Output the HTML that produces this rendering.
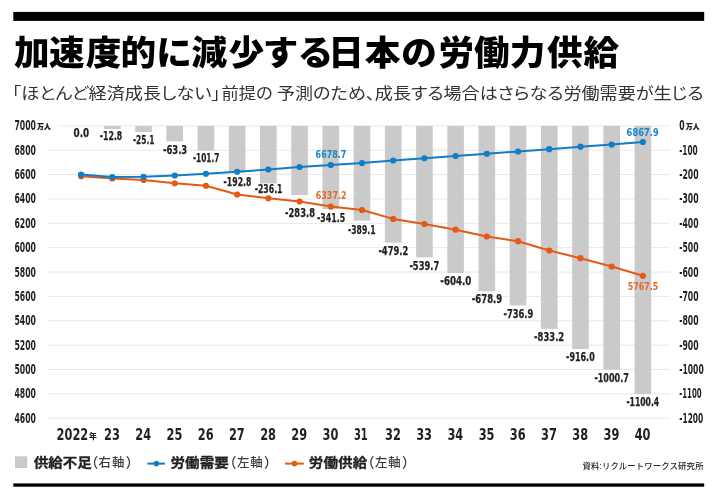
<!DOCTYPE html>
<html lang="ja"><head><meta charset="utf-8"><title>加速度的に減少する日本の労働力供給</title>
<style>html,body{margin:0;padding:0;background:#fff;}svg{display:block;}</style></head>
<body><svg width="720" height="499" viewBox="0 0 720 499">
<rect width="720" height="499" fill="#fff"/>
<rect x="13.3" y="11.9" width="690.9" height="9" fill="#000"/>
<rect x="13.3" y="483.4" width="690.9" height="3.3" fill="#000"/>
<g transform="translate(0,52.4) scale(1,0.945) translate(0,-52.4)"><text x="14 49 85.7 120.5 156.2 191.5 228.5 262.8 297.8 328.3 364.8 401.3 438.6 474 509.7 547.1 583.4" y="65.22" font-family="'Liberation Sans', 'Noto Sans CJK JP', sans-serif" font-weight="900" font-size="35.6" fill="#000">加速度的に減少する日本の労働力供給</text></g>
<text x="12.0" y="99.2" font-family="'Liberation Sans', 'Noto Sans CJK JP', sans-serif" font-weight="400" font-size="16.0" fill="#333" style="font-feature-settings:'palt'" textLength="208.5" lengthAdjust="spacingAndGlyphs">「ほとんど経済成長しない」</text>
<text x="221.4" y="99.2" font-family="'Liberation Sans', 'Noto Sans CJK JP', sans-serif" font-weight="400" font-size="16.0" fill="#333" style="font-feature-settings:'palt'" textLength="51.2" lengthAdjust="spacingAndGlyphs">前提の</text>
<text x="277.0" y="99.2" font-family="'Liberation Sans', 'Noto Sans CJK JP', sans-serif" font-weight="400" font-size="16.0" fill="#333" style="font-feature-settings:'palt'" textLength="426.5" lengthAdjust="spacingAndGlyphs">予測のため、成長する場合はさらなる労働需要が生じる</text>
<line x1="58.8" x2="670.2" y1="125.90" y2="125.90" stroke="#e8e8e8" stroke-width="1"/>
<line x1="48" x2="670.2" y1="150.26" y2="150.26" stroke="#e8e8e8" stroke-width="1"/>
<line x1="48" x2="670.2" y1="174.62" y2="174.62" stroke="#e8e8e8" stroke-width="1"/>
<line x1="48" x2="670.2" y1="198.98" y2="198.98" stroke="#e8e8e8" stroke-width="1"/>
<line x1="48" x2="670.2" y1="223.34" y2="223.34" stroke="#e8e8e8" stroke-width="1"/>
<line x1="48" x2="670.2" y1="247.70" y2="247.70" stroke="#e8e8e8" stroke-width="1"/>
<line x1="48" x2="670.2" y1="272.06" y2="272.06" stroke="#e8e8e8" stroke-width="1"/>
<line x1="48" x2="670.2" y1="296.42" y2="296.42" stroke="#e8e8e8" stroke-width="1"/>
<line x1="48" x2="670.2" y1="320.78" y2="320.78" stroke="#e8e8e8" stroke-width="1"/>
<line x1="48" x2="670.2" y1="345.14" y2="345.14" stroke="#e8e8e8" stroke-width="1"/>
<line x1="48" x2="670.2" y1="369.50" y2="369.50" stroke="#e8e8e8" stroke-width="1"/>
<line x1="48" x2="670.2" y1="393.86" y2="393.86" stroke="#e8e8e8" stroke-width="1"/>
<line x1="48" x2="670.2" y1="418.22" y2="418.22" stroke="#e8e8e8" stroke-width="1"/>
<rect x="104.01" y="125.90" width="16.6" height="3.12" fill="#cacaca"/>
<rect x="135.22" y="125.90" width="16.6" height="6.11" fill="#cacaca"/>
<rect x="166.43" y="125.90" width="16.6" height="15.42" fill="#cacaca"/>
<rect x="197.64" y="125.90" width="16.6" height="24.77" fill="#cacaca"/>
<rect x="228.85" y="125.90" width="16.6" height="46.97" fill="#cacaca"/>
<rect x="260.06" y="125.90" width="16.6" height="57.51" fill="#cacaca"/>
<rect x="291.27" y="125.90" width="16.6" height="69.13" fill="#cacaca"/>
<rect x="322.48" y="125.90" width="16.6" height="83.19" fill="#cacaca"/>
<rect x="353.69" y="125.90" width="16.6" height="94.78" fill="#cacaca"/>
<rect x="384.90" y="125.90" width="16.6" height="116.73" fill="#cacaca"/>
<rect x="416.11" y="125.90" width="16.6" height="131.47" fill="#cacaca"/>
<rect x="447.32" y="125.90" width="16.6" height="147.13" fill="#cacaca"/>
<rect x="478.53" y="125.90" width="16.6" height="165.38" fill="#cacaca"/>
<rect x="509.74" y="125.90" width="16.6" height="179.51" fill="#cacaca"/>
<rect x="540.95" y="125.90" width="16.6" height="202.97" fill="#cacaca"/>
<rect x="572.16" y="125.90" width="16.6" height="223.14" fill="#cacaca"/>
<rect x="603.37" y="125.90" width="16.6" height="243.77" fill="#cacaca"/>
<rect x="634.58" y="125.90" width="16.6" height="268.06" fill="#cacaca"/>
<text transform="translate(14.5,130.36) scale(0.6,1)" font-family="'DejaVu Sans', sans-serif" font-stretch="condensed" font-weight="700" font-size="14.3" fill="#231f20" textLength="35.81" lengthAdjust="spacingAndGlyphs">7000</text>
<text transform="translate(679.3,130.36) scale(0.6,1)" font-family="'DejaVu Sans', sans-serif" font-stretch="condensed" font-weight="700" font-size="14.3" fill="#231f20" textLength="8.95" lengthAdjust="spacingAndGlyphs">0</text>
<text transform="translate(14.5,154.72) scale(0.6,1)" font-family="'DejaVu Sans', sans-serif" font-stretch="condensed" font-weight="700" font-size="14.3" fill="#231f20" textLength="35.81" lengthAdjust="spacingAndGlyphs">6800</text>
<text transform="translate(679.3,154.72) scale(0.6,1)" font-family="'DejaVu Sans', sans-serif" font-stretch="condensed" font-weight="700" font-size="14.3" fill="#231f20" textLength="30.7" lengthAdjust="spacingAndGlyphs">-100</text>
<text transform="translate(14.5,179.08) scale(0.6,1)" font-family="'DejaVu Sans', sans-serif" font-stretch="condensed" font-weight="700" font-size="14.3" fill="#231f20" textLength="35.81" lengthAdjust="spacingAndGlyphs">6600</text>
<text transform="translate(679.3,179.08) scale(0.6,1)" font-family="'DejaVu Sans', sans-serif" font-stretch="condensed" font-weight="700" font-size="14.3" fill="#231f20" textLength="32.2" lengthAdjust="spacingAndGlyphs">-200</text>
<text transform="translate(14.5,203.44) scale(0.6,1)" font-family="'DejaVu Sans', sans-serif" font-stretch="condensed" font-weight="700" font-size="14.3" fill="#231f20" textLength="35.81" lengthAdjust="spacingAndGlyphs">6400</text>
<text transform="translate(679.3,203.44) scale(0.6,1)" font-family="'DejaVu Sans', sans-serif" font-stretch="condensed" font-weight="700" font-size="14.3" fill="#231f20" textLength="32.2" lengthAdjust="spacingAndGlyphs">-300</text>
<text transform="translate(14.5,227.80) scale(0.6,1)" font-family="'DejaVu Sans', sans-serif" font-stretch="condensed" font-weight="700" font-size="14.3" fill="#231f20" textLength="35.81" lengthAdjust="spacingAndGlyphs">6200</text>
<text transform="translate(679.3,227.80) scale(0.6,1)" font-family="'DejaVu Sans', sans-serif" font-stretch="condensed" font-weight="700" font-size="14.3" fill="#231f20" textLength="32.2" lengthAdjust="spacingAndGlyphs">-400</text>
<text transform="translate(14.5,252.16) scale(0.6,1)" font-family="'DejaVu Sans', sans-serif" font-stretch="condensed" font-weight="700" font-size="14.3" fill="#231f20" textLength="35.81" lengthAdjust="spacingAndGlyphs">6000</text>
<text transform="translate(679.3,252.16) scale(0.6,1)" font-family="'DejaVu Sans', sans-serif" font-stretch="condensed" font-weight="700" font-size="14.3" fill="#231f20" textLength="32.2" lengthAdjust="spacingAndGlyphs">-500</text>
<text transform="translate(14.5,276.52) scale(0.6,1)" font-family="'DejaVu Sans', sans-serif" font-stretch="condensed" font-weight="700" font-size="14.3" fill="#231f20" textLength="35.81" lengthAdjust="spacingAndGlyphs">5800</text>
<text transform="translate(679.3,276.52) scale(0.6,1)" font-family="'DejaVu Sans', sans-serif" font-stretch="condensed" font-weight="700" font-size="14.3" fill="#231f20" textLength="32.2" lengthAdjust="spacingAndGlyphs">-600</text>
<text transform="translate(14.5,300.88) scale(0.6,1)" font-family="'DejaVu Sans', sans-serif" font-stretch="condensed" font-weight="700" font-size="14.3" fill="#231f20" textLength="35.81" lengthAdjust="spacingAndGlyphs">5600</text>
<text transform="translate(679.3,300.88) scale(0.6,1)" font-family="'DejaVu Sans', sans-serif" font-stretch="condensed" font-weight="700" font-size="14.3" fill="#231f20" textLength="32.2" lengthAdjust="spacingAndGlyphs">-700</text>
<text transform="translate(14.5,325.24) scale(0.6,1)" font-family="'DejaVu Sans', sans-serif" font-stretch="condensed" font-weight="700" font-size="14.3" fill="#231f20" textLength="35.81" lengthAdjust="spacingAndGlyphs">5400</text>
<text transform="translate(679.3,325.24) scale(0.6,1)" font-family="'DejaVu Sans', sans-serif" font-stretch="condensed" font-weight="700" font-size="14.3" fill="#231f20" textLength="32.2" lengthAdjust="spacingAndGlyphs">-800</text>
<text transform="translate(14.5,349.60) scale(0.6,1)" font-family="'DejaVu Sans', sans-serif" font-stretch="condensed" font-weight="700" font-size="14.3" fill="#231f20" textLength="35.81" lengthAdjust="spacingAndGlyphs">5200</text>
<text transform="translate(679.3,349.60) scale(0.6,1)" font-family="'DejaVu Sans', sans-serif" font-stretch="condensed" font-weight="700" font-size="14.3" fill="#231f20" textLength="32.2" lengthAdjust="spacingAndGlyphs">-900</text>
<text transform="translate(14.5,373.96) scale(0.6,1)" font-family="'DejaVu Sans', sans-serif" font-stretch="condensed" font-weight="700" font-size="14.3" fill="#231f20" textLength="35.81" lengthAdjust="spacingAndGlyphs">5000</text>
<text transform="translate(679.3,373.96) scale(0.6,1)" font-family="'DejaVu Sans', sans-serif" font-stretch="condensed" font-weight="700" font-size="14.3" fill="#231f20" textLength="40.7" lengthAdjust="spacingAndGlyphs">-1000</text>
<text transform="translate(14.5,398.32) scale(0.6,1)" font-family="'DejaVu Sans', sans-serif" font-stretch="condensed" font-weight="700" font-size="14.3" fill="#231f20" textLength="35.81" lengthAdjust="spacingAndGlyphs">4800</text>
<text transform="translate(679.3,398.32) scale(0.6,1)" font-family="'DejaVu Sans', sans-serif" font-stretch="condensed" font-weight="700" font-size="14.3" fill="#231f20" textLength="37.3" lengthAdjust="spacingAndGlyphs">-1100</text>
<text transform="translate(14.5,422.68) scale(0.6,1)" font-family="'DejaVu Sans', sans-serif" font-stretch="condensed" font-weight="700" font-size="14.3" fill="#231f20" textLength="35.81" lengthAdjust="spacingAndGlyphs">4600</text>
<text transform="translate(679.3,422.68) scale(0.6,1)" font-family="'DejaVu Sans', sans-serif" font-stretch="condensed" font-weight="700" font-size="14.3" fill="#231f20" textLength="40.0" lengthAdjust="spacingAndGlyphs">-1200</text>
<text x="37.2" y="128.7" font-family="'Liberation Sans', 'Noto Sans CJK JP', sans-serif" font-weight="900" font-size="7.2" fill="#231f20" stroke="#231f20" stroke-width="0.25" textLength="13.4" lengthAdjust="spacingAndGlyphs">万人</text>
<text x="686.0" y="128.7" font-family="'Liberation Sans', 'Noto Sans CJK JP', sans-serif" font-weight="900" font-size="7.2" fill="#231f20" stroke="#231f20" stroke-width="0.25" textLength="13.4" lengthAdjust="spacingAndGlyphs">万人</text>
<polyline points="81.10,176.25 112.31,178.50 143.52,180.00 174.73,183.25 205.94,185.75 237.15,194.50 268.36,198.25 299.57,201.50 330.78,206.60 361.99,210.00 393.20,218.90 424.41,224.00 455.62,229.70 486.83,236.50 518.04,241.20 549.25,250.50 580.46,258.20 611.67,266.50 642.88,275.80" fill="none" stroke="#e45a14" stroke-width="2" stroke-linejoin="round"/>
<circle cx="81.10" cy="176.25" r="3.1" fill="#e45a14"/>
<circle cx="112.31" cy="178.50" r="3.1" fill="#e45a14"/>
<circle cx="143.52" cy="180.00" r="3.1" fill="#e45a14"/>
<circle cx="174.73" cy="183.25" r="3.1" fill="#e45a14"/>
<circle cx="205.94" cy="185.75" r="3.1" fill="#e45a14"/>
<circle cx="237.15" cy="194.50" r="3.1" fill="#e45a14"/>
<circle cx="268.36" cy="198.25" r="3.1" fill="#e45a14"/>
<circle cx="299.57" cy="201.50" r="3.1" fill="#e45a14"/>
<circle cx="330.78" cy="206.60" r="3.1" fill="#e45a14"/>
<circle cx="361.99" cy="210.00" r="3.1" fill="#e45a14"/>
<circle cx="393.20" cy="218.90" r="3.1" fill="#e45a14"/>
<circle cx="424.41" cy="224.00" r="3.1" fill="#e45a14"/>
<circle cx="455.62" cy="229.70" r="3.1" fill="#e45a14"/>
<circle cx="486.83" cy="236.50" r="3.1" fill="#e45a14"/>
<circle cx="518.04" cy="241.20" r="3.1" fill="#e45a14"/>
<circle cx="549.25" cy="250.50" r="3.1" fill="#e45a14"/>
<circle cx="580.46" cy="258.20" r="3.1" fill="#e45a14"/>
<circle cx="611.67" cy="266.50" r="3.1" fill="#e45a14"/>
<circle cx="642.88" cy="275.80" r="3.1" fill="#e45a14"/>
<polyline points="81.10,174.60 112.31,177.10 143.52,176.75 174.73,175.50 205.94,173.75 237.15,171.75 268.36,169.50 299.57,167.00 330.78,165.00 361.99,163.00 393.20,160.50 424.41,158.25 455.62,156.00 486.83,153.75 518.04,151.50 549.25,149.20 580.46,146.70 611.67,144.60 642.88,142.00" fill="none" stroke="#0f7dc8" stroke-width="2" stroke-linejoin="round"/>
<circle cx="81.10" cy="174.60" r="3.1" fill="#0f7dc8"/>
<circle cx="112.31" cy="177.10" r="3.1" fill="#0f7dc8"/>
<circle cx="143.52" cy="176.75" r="3.1" fill="#0f7dc8"/>
<circle cx="174.73" cy="175.50" r="3.1" fill="#0f7dc8"/>
<circle cx="205.94" cy="173.75" r="3.1" fill="#0f7dc8"/>
<circle cx="237.15" cy="171.75" r="3.1" fill="#0f7dc8"/>
<circle cx="268.36" cy="169.50" r="3.1" fill="#0f7dc8"/>
<circle cx="299.57" cy="167.00" r="3.1" fill="#0f7dc8"/>
<circle cx="330.78" cy="165.00" r="3.1" fill="#0f7dc8"/>
<circle cx="361.99" cy="163.00" r="3.1" fill="#0f7dc8"/>
<circle cx="393.20" cy="160.50" r="3.1" fill="#0f7dc8"/>
<circle cx="424.41" cy="158.25" r="3.1" fill="#0f7dc8"/>
<circle cx="455.62" cy="156.00" r="3.1" fill="#0f7dc8"/>
<circle cx="486.83" cy="153.75" r="3.1" fill="#0f7dc8"/>
<circle cx="518.04" cy="151.50" r="3.1" fill="#0f7dc8"/>
<circle cx="549.25" cy="149.20" r="3.1" fill="#0f7dc8"/>
<circle cx="580.46" cy="146.70" r="3.1" fill="#0f7dc8"/>
<circle cx="611.67" cy="144.60" r="3.1" fill="#0f7dc8"/>
<circle cx="642.88" cy="142.00" r="3.1" fill="#0f7dc8"/>
<text x="81.30" y="137.46" text-anchor="middle" textLength="15.6" lengthAdjust="spacingAndGlyphs" font-family="'DejaVu Sans', sans-serif" font-stretch="condensed" font-weight="700" font-size="11.4" fill="#231f20" stroke="#231f20" stroke-width="0.25">0.0</text>
<text x="111.05" y="140.46" text-anchor="middle" textLength="22.5" lengthAdjust="spacingAndGlyphs" font-family="'DejaVu Sans', sans-serif" font-stretch="condensed" font-weight="700" font-size="11.4" fill="#231f20" stroke="#231f20" stroke-width="0.25">-12.8</text>
<text x="143.70" y="143.76" text-anchor="middle" textLength="21.4" lengthAdjust="spacingAndGlyphs" font-family="'DejaVu Sans', sans-serif" font-stretch="condensed" font-weight="700" font-size="11.4" fill="#231f20" stroke="#231f20" stroke-width="0.25">-25.1</text>
<text x="175.10" y="153.91" text-anchor="middle" textLength="24.2" lengthAdjust="spacingAndGlyphs" font-family="'DejaVu Sans', sans-serif" font-stretch="condensed" font-weight="700" font-size="11.4" fill="#231f20" stroke="#231f20" stroke-width="0.25">-63.3</text>
<text x="206.20" y="162.16" text-anchor="middle" textLength="26.4" lengthAdjust="spacingAndGlyphs" font-family="'DejaVu Sans', sans-serif" font-stretch="condensed" font-weight="700" font-size="11.4" fill="#231f20" stroke="#231f20" stroke-width="0.25">-101.7</text>
<text x="237.50" y="185.91" text-anchor="middle" textLength="27.8" lengthAdjust="spacingAndGlyphs" font-family="'DejaVu Sans', sans-serif" font-stretch="condensed" font-weight="700" font-size="11.4" fill="#231f20" stroke="#231f20" stroke-width="0.25">-192.8</text>
<text x="268.60" y="193.16" text-anchor="middle" textLength="27.8" lengthAdjust="spacingAndGlyphs" font-family="'DejaVu Sans', sans-serif" font-stretch="condensed" font-weight="700" font-size="11.4" fill="#231f20" stroke="#231f20" stroke-width="0.25">-236.1</text>
<text x="300.00" y="216.56" text-anchor="middle" textLength="30.0" lengthAdjust="spacingAndGlyphs" font-family="'DejaVu Sans', sans-serif" font-stretch="condensed" font-weight="700" font-size="11.4" fill="#231f20" stroke="#231f20" stroke-width="0.25">-283.8</text>
<text x="331.05" y="221.91" text-anchor="middle" textLength="28.1" lengthAdjust="spacingAndGlyphs" font-family="'DejaVu Sans', sans-serif" font-stretch="condensed" font-weight="700" font-size="11.4" fill="#231f20" stroke="#231f20" stroke-width="0.25">-341.5</text>
<text x="361.75" y="233.56" text-anchor="middle" textLength="27.5" lengthAdjust="spacingAndGlyphs" font-family="'DejaVu Sans', sans-serif" font-stretch="condensed" font-weight="700" font-size="11.4" fill="#231f20" stroke="#231f20" stroke-width="0.25">-389.1</text>
<text x="393.30" y="254.66" text-anchor="middle" textLength="29.8" lengthAdjust="spacingAndGlyphs" font-family="'DejaVu Sans', sans-serif" font-stretch="condensed" font-weight="700" font-size="11.4" fill="#231f20" stroke="#231f20" stroke-width="0.25">-479.2</text>
<text x="424.30" y="269.56" text-anchor="middle" textLength="29.8" lengthAdjust="spacingAndGlyphs" font-family="'DejaVu Sans', sans-serif" font-stretch="condensed" font-weight="700" font-size="11.4" fill="#231f20" stroke="#231f20" stroke-width="0.25">-539.7</text>
<text x="455.85" y="284.76" text-anchor="middle" textLength="31.1" lengthAdjust="spacingAndGlyphs" font-family="'DejaVu Sans', sans-serif" font-stretch="condensed" font-weight="700" font-size="11.4" fill="#231f20" stroke="#231f20" stroke-width="0.25">-604.0</text>
<text x="487.00" y="303.36" text-anchor="middle" textLength="30.6" lengthAdjust="spacingAndGlyphs" font-family="'DejaVu Sans', sans-serif" font-stretch="condensed" font-weight="700" font-size="11.4" fill="#231f20" stroke="#231f20" stroke-width="0.25">-678.9</text>
<text x="518.40" y="317.56" text-anchor="middle" textLength="29.8" lengthAdjust="spacingAndGlyphs" font-family="'DejaVu Sans', sans-serif" font-stretch="condensed" font-weight="700" font-size="11.4" fill="#231f20" stroke="#231f20" stroke-width="0.25">-736.9</text>
<text x="549.15" y="340.51" text-anchor="middle" textLength="30.1" lengthAdjust="spacingAndGlyphs" font-family="'DejaVu Sans', sans-serif" font-stretch="condensed" font-weight="700" font-size="11.4" fill="#231f20" stroke="#231f20" stroke-width="0.25">-833.2</text>
<text x="580.40" y="360.66" text-anchor="middle" textLength="28.6" lengthAdjust="spacingAndGlyphs" font-family="'DejaVu Sans', sans-serif" font-stretch="condensed" font-weight="700" font-size="11.4" fill="#231f20" stroke="#231f20" stroke-width="0.25">-916.0</text>
<text x="611.65" y="381.76" text-anchor="middle" textLength="34.5" lengthAdjust="spacingAndGlyphs" font-family="'DejaVu Sans', sans-serif" font-stretch="condensed" font-weight="700" font-size="11.4" fill="#231f20" stroke="#231f20" stroke-width="0.25">-1000.7</text>
<text x="642.80" y="406.36" text-anchor="middle" textLength="32.8" lengthAdjust="spacingAndGlyphs" font-family="'DejaVu Sans', sans-serif" font-stretch="condensed" font-weight="700" font-size="11.4" fill="#231f20" stroke="#231f20" stroke-width="0.25">-1100.4</text>
<text x="642.70" y="135.83" text-anchor="middle" textLength="32.2" lengthAdjust="spacingAndGlyphs" font-family="'DejaVu Sans', sans-serif" font-stretch="condensed" font-weight="700" font-size="11.2" fill="#1a84cc">6867.9</text>
<text x="331.00" y="157.68" text-anchor="middle" textLength="30.8" lengthAdjust="spacingAndGlyphs" font-family="'DejaVu Sans', sans-serif" font-stretch="condensed" font-weight="700" font-size="11.2" fill="#1a84cc">6678.7</text>
<text x="331.15" y="198.68" text-anchor="middle" textLength="30.9" lengthAdjust="spacingAndGlyphs" font-family="'DejaVu Sans', sans-serif" font-stretch="condensed" font-weight="700" font-size="11.2" fill="#e6692a">6337.2</text>
<text x="643.00" y="290.48" text-anchor="middle" textLength="30.6" lengthAdjust="spacingAndGlyphs" font-family="'DejaVu Sans', sans-serif" font-stretch="condensed" font-weight="700" font-size="11.2" fill="#e6692a">5767.5</text>
<text transform="translate(56.6,439.7) scale(0.81,1)" font-family="'DejaVu Sans', sans-serif" font-stretch="condensed" font-weight="700" font-size="15.6" fill="#231f20" textLength="39.05" lengthAdjust="spacingAndGlyphs">2022</text>
<text x="88.9" y="438.8" font-family="'Liberation Sans', 'Noto Sans CJK JP', sans-serif" font-weight="900" font-size="7.9" fill="#231f20">年</text>
<text transform="translate(112.01,439.7) scale(0.81,1)" text-anchor="middle" font-family="'DejaVu Sans', sans-serif" font-stretch="condensed" font-weight="700" font-size="15.6" fill="#231f20" textLength="19.53" lengthAdjust="spacingAndGlyphs">23</text>
<text transform="translate(143.22,439.7) scale(0.81,1)" text-anchor="middle" font-family="'DejaVu Sans', sans-serif" font-stretch="condensed" font-weight="700" font-size="15.6" fill="#231f20" textLength="19.53" lengthAdjust="spacingAndGlyphs">24</text>
<text transform="translate(174.43,439.7) scale(0.81,1)" text-anchor="middle" font-family="'DejaVu Sans', sans-serif" font-stretch="condensed" font-weight="700" font-size="15.6" fill="#231f20" textLength="19.53" lengthAdjust="spacingAndGlyphs">25</text>
<text transform="translate(205.64,439.7) scale(0.81,1)" text-anchor="middle" font-family="'DejaVu Sans', sans-serif" font-stretch="condensed" font-weight="700" font-size="15.6" fill="#231f20" textLength="19.53" lengthAdjust="spacingAndGlyphs">26</text>
<text transform="translate(236.85,439.7) scale(0.81,1)" text-anchor="middle" font-family="'DejaVu Sans', sans-serif" font-stretch="condensed" font-weight="700" font-size="15.6" fill="#231f20" textLength="19.53" lengthAdjust="spacingAndGlyphs">27</text>
<text transform="translate(268.06,439.7) scale(0.81,1)" text-anchor="middle" font-family="'DejaVu Sans', sans-serif" font-stretch="condensed" font-weight="700" font-size="15.6" fill="#231f20" textLength="19.53" lengthAdjust="spacingAndGlyphs">28</text>
<text transform="translate(299.27,439.7) scale(0.81,1)" text-anchor="middle" font-family="'DejaVu Sans', sans-serif" font-stretch="condensed" font-weight="700" font-size="15.6" fill="#231f20" textLength="19.53" lengthAdjust="spacingAndGlyphs">29</text>
<text transform="translate(330.48,439.7) scale(0.81,1)" text-anchor="middle" font-family="'DejaVu Sans', sans-serif" font-stretch="condensed" font-weight="700" font-size="15.6" fill="#231f20" textLength="19.53" lengthAdjust="spacingAndGlyphs">30</text>
<text transform="translate(360.79,439.7) scale(0.81,1)" text-anchor="middle" font-family="'DejaVu Sans', sans-serif" font-stretch="condensed" font-weight="700" font-size="15.6" fill="#231f20" textLength="17.0" lengthAdjust="spacingAndGlyphs">31</text>
<text transform="translate(392.90,439.7) scale(0.81,1)" text-anchor="middle" font-family="'DejaVu Sans', sans-serif" font-stretch="condensed" font-weight="700" font-size="15.6" fill="#231f20" textLength="19.53" lengthAdjust="spacingAndGlyphs">32</text>
<text transform="translate(424.11,439.7) scale(0.81,1)" text-anchor="middle" font-family="'DejaVu Sans', sans-serif" font-stretch="condensed" font-weight="700" font-size="15.6" fill="#231f20" textLength="19.53" lengthAdjust="spacingAndGlyphs">33</text>
<text transform="translate(455.32,439.7) scale(0.81,1)" text-anchor="middle" font-family="'DejaVu Sans', sans-serif" font-stretch="condensed" font-weight="700" font-size="15.6" fill="#231f20" textLength="19.53" lengthAdjust="spacingAndGlyphs">34</text>
<text transform="translate(486.53,439.7) scale(0.81,1)" text-anchor="middle" font-family="'DejaVu Sans', sans-serif" font-stretch="condensed" font-weight="700" font-size="15.6" fill="#231f20" textLength="19.53" lengthAdjust="spacingAndGlyphs">35</text>
<text transform="translate(517.74,439.7) scale(0.81,1)" text-anchor="middle" font-family="'DejaVu Sans', sans-serif" font-stretch="condensed" font-weight="700" font-size="15.6" fill="#231f20" textLength="19.53" lengthAdjust="spacingAndGlyphs">36</text>
<text transform="translate(548.95,439.7) scale(0.81,1)" text-anchor="middle" font-family="'DejaVu Sans', sans-serif" font-stretch="condensed" font-weight="700" font-size="15.6" fill="#231f20" textLength="19.53" lengthAdjust="spacingAndGlyphs">37</text>
<text transform="translate(580.16,439.7) scale(0.81,1)" text-anchor="middle" font-family="'DejaVu Sans', sans-serif" font-stretch="condensed" font-weight="700" font-size="15.6" fill="#231f20" textLength="19.53" lengthAdjust="spacingAndGlyphs">38</text>
<text transform="translate(611.37,439.7) scale(0.81,1)" text-anchor="middle" font-family="'DejaVu Sans', sans-serif" font-stretch="condensed" font-weight="700" font-size="15.6" fill="#231f20" textLength="19.53" lengthAdjust="spacingAndGlyphs">39</text>
<text transform="translate(642.58,439.7) scale(0.81,1)" text-anchor="middle" font-family="'DejaVu Sans', sans-serif" font-stretch="condensed" font-weight="700" font-size="15.6" fill="#231f20" textLength="19.53" lengthAdjust="spacingAndGlyphs">40</text>
<g transform="translate(0,462.5) scale(1,0.9) translate(0,-462.5)"><text x="33.8" y="467.2" font-family="'Liberation Sans', 'Noto Sans CJK JP', sans-serif" font-weight="700" font-size="14.5" fill="#231f20" stroke="#231f20" stroke-width="0.35" style="font-feature-settings:'palt'" textLength="57.9" lengthAdjust="spacing">供給不足</text><text x="170.5" y="467.2" font-family="'Liberation Sans', 'Noto Sans CJK JP', sans-serif" font-weight="700" font-size="14.5" fill="#231f20" stroke="#231f20" stroke-width="0.35" style="font-feature-settings:'palt'" textLength="58.2" lengthAdjust="spacing">労働需要</text><text x="308.7" y="467.2" font-family="'Liberation Sans', 'Noto Sans CJK JP', sans-serif" font-weight="700" font-size="14.5" fill="#231f20" stroke="#231f20" stroke-width="0.35" style="font-feature-settings:'palt'" textLength="58.6" lengthAdjust="spacing">労働供給</text></g>
<text font-family="'Liberation Sans', 'Noto Sans CJK JP', sans-serif" font-weight="500" fill="#3a3a3a" style="font-feature-settings:'palt'"><tspan x="90.9" y="467.1" font-size="13.5">（</tspan><tspan x="98.6" y="466.8" font-size="12.4">右</tspan><tspan x="111.9" y="466.8" font-size="12.4">軸</tspan><tspan x="126.3" y="467.1" font-size="13.5">）</tspan></text>
<text font-family="'Liberation Sans', 'Noto Sans CJK JP', sans-serif" font-weight="500" fill="#3a3a3a" style="font-feature-settings:'palt'"><tspan x="229.2" y="467.1" font-size="13.5">（</tspan><tspan x="236.9" y="466.8" font-size="12.4">左</tspan><tspan x="250.2" y="466.8" font-size="12.4">軸</tspan><tspan x="264.6" y="467.1" font-size="13.5">）</tspan></text>
<text font-family="'Liberation Sans', 'Noto Sans CJK JP', sans-serif" font-weight="500" fill="#3a3a3a" style="font-feature-settings:'palt'"><tspan x="367.2" y="467.1" font-size="13.5">（</tspan><tspan x="374.9" y="466.8" font-size="12.4">左</tspan><tspan x="388.2" y="466.8" font-size="12.4">軸</tspan><tspan x="402.6" y="467.1" font-size="13.5">）</tspan></text>
<rect x="15" y="456.3" width="12.2" height="11.7" fill="#cacaca"/>
<line x1="147.4" x2="164.9" y1="463.6" y2="463.6" stroke="#0f7dc8" stroke-width="2"/><circle cx="156.4" cy="463.6" r="2.8" fill="#0f7dc8"/>
<line x1="285.0" x2="303.9" y1="463.6" y2="463.6" stroke="#e45a14" stroke-width="2"/><circle cx="294.5" cy="463.6" r="2.8" fill="#e45a14"/>
<text x="582.4" y="468.7" font-family="'Liberation Sans', 'Noto Sans CJK JP', sans-serif" font-weight="500" font-size="8.4" fill="#231f20" textLength="121.1" lengthAdjust="spacing">資料:リクルートワークス研究所</text>
</svg></body></html>
